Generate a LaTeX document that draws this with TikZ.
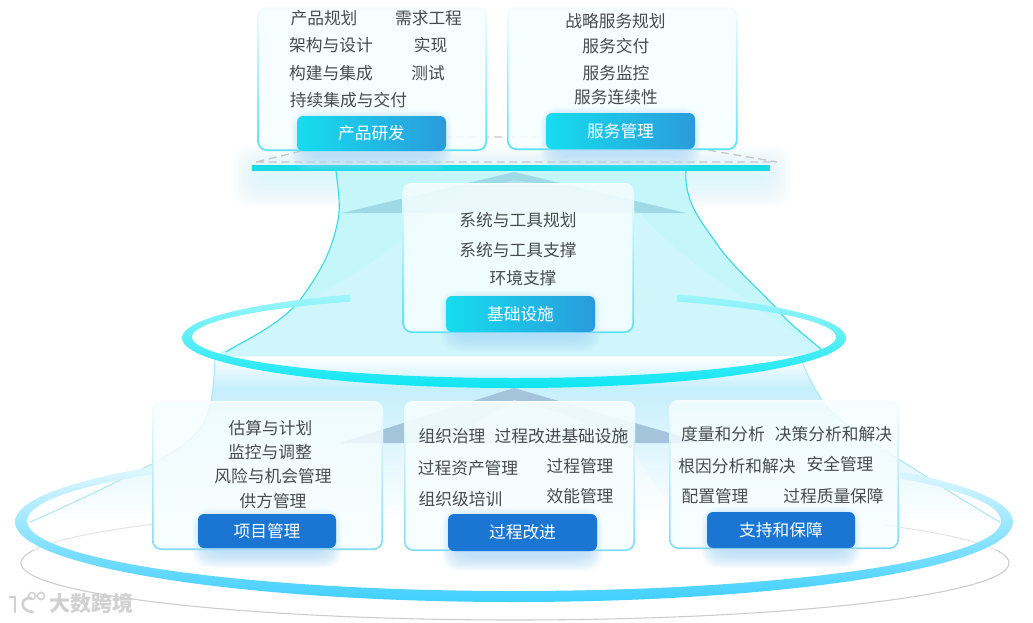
\documentclass[tikz,border=0pt]{standalone}
\usepackage{fontspec}
\setmainfont{Noto Sans CJK SC}
\usetikzlibrary{calc}
\definecolor{txt}{HTML}{474B4E}
\definecolor{cyanA}{HTML}{16DDEE}
\definecolor{cyanB}{HTML}{2A9BDC}
\definecolor{blueBtn}{HTML}{1A76D2}
\definecolor{ringC}{HTML}{0DE6F2}
\definecolor{ringB}{HTML}{3FCFFF}
\definecolor{funA}{HTML}{C4F6FA}
\definecolor{funB}{HTML}{C6EFFC}
\definecolor{lineA}{HTML}{35D8E6}
\definecolor{lineB}{HTML}{A5E5FA}
\definecolor{triA}{HTML}{A4C4DB}
\definecolor{triB}{HTML}{9FD9E6}
\definecolor{barC}{HTML}{17DBE8}
\definecolor{borA}{HTML}{55E2F4}
\definecolor{borB}{HTML}{7FDCF5}
\definecolor{panelF}{HTML}{F6FEFF}
\definecolor{glowC}{HTML}{D4F7FB}
\definecolor{glowB}{HTML}{A9D8F8}
\tikzset{
  x=0.75pt,y=-0.75pt,
  item/.style={text=txt,font=\fontsize{12.55pt}{14pt}\selectfont,inner sep=0pt},
  btn/.style={rounded corners=4.5pt,inner sep=0pt,text=white,font=\fontsize{12.55pt}{14pt}\selectfont},
  btnsoft/.style={btn,left color=cyanA,right color=cyanB},
  btnhard/.style={btn,fill=blueBtn},
  dashline/.style={draw=black!22,line width=1pt,dash pattern=on 6pt off 3.5pt},
}
% x0,y0,x1,y1,colour,steps,opacity
\newcommand{\softglow}[7]{%
  \foreach \gi in {1,...,#6}{%
    \fill[#5,opacity=#7,rounded corners=12pt]
      ({#1-1.5*(#6-\gi)},{#2-1.5*(#6-\gi)}) rectangle ({#3+1.5*(#6-\gi)},{#4+1.5*(#6-\gi)});
  }}
\newcommand{\panelbox}[6]{%
  \fill[panelF,fill opacity=#6,rounded corners=7pt] (#1,#2) rectangle (#3,#4);
  \shade[even odd rule,top color=white!94!#5,middle color=white!60!#5,bottom color=#5,rounded corners=7pt]
    (#1,#2) rectangle (#3,#4) ({#1+1.6},{#2+1.6}) [rounded corners=6pt] rectangle ({#3-1.6},{#4-1.6});
}
\newcommand{\button}[7]{%
  \softglow{#2+8}{#3+8}{#4-8}{#5+6}{glowB}{10}{0.1}
  \pgfmathsetmacro{\bw}{(#4-#2)*0.75}\pgfmathsetmacro{\bh}{(#5-#3)*0.75}
  \node[#6,minimum width=\bw pt,minimum height=\bh pt] (#1) at ({(#2+#4)/2},{(#3+#5)/2}) {\raisebox{-1pt}{#7}};
}
\begin{document}
\begin{tikzpicture}
\useasboundingbox (0,0) rectangle (1033,622);
\fill[white] (0,0) rectangle (1033,622);
% grey floor ellipse
\begin{scope}
\clip (0,550) rectangle (1033,622);
\draw[black!20,line width=0.8pt] (515,563) ellipse [x radius=494,y radius=57];
\end{scope}
\begin{scope}
\clip (0,510) -| (155,550) -| (885,510) -| (1033,550) -| (0,510) -- cycle;
\draw[black!11,line width=0.7pt] (515,563) ellipse [x radius=494,y radius=57];
\end{scope}
% lower funnel
\begin{scope}
\clip (215,356) .. controls (214,385) and (212,405) .. (205,420)
  .. controls (195,440) and (170,455) .. (150,465)
  .. controls (110,485) and (70,505) .. (30,522) -- (1000,522)
  .. controls (970,505) and (940,485) .. (900,460)
  .. controls (870,440) and (835,420) .. (822,400)
  .. controls (812,385) and (805,370) .. (800,356) -- cycle;
\shade[top color=white,bottom color=funB] (0,356) rectangle (1033,388);
\shade[top color=funB,bottom color=white] (0,388) rectangle (1033,522);
\end{scope}
\draw[lineB,line width=0.7pt] (215,356) .. controls (214,385) and (212,405) .. (205,420)
  .. controls (195,440) and (170,455) .. (150,465) .. controls (110,485) and (70,505) .. (30,522);
\draw[lineB,line width=0.7pt] (800,356) .. controls (805,370) and (812,385) .. (822,400)
  .. controls (835,420) and (870,440) .. (900,460) .. controls (940,485) and (970,505) .. (1000,522);
% lower triangle and tent
\fill[triA] (514,388) -- (340,443) -- (704,443) -- cycle;
\fill[white,opacity=0.45] (514,400) .. controls (470,425) and (440,450) .. (425,470)
  .. controls (405,510) and (380,530) .. (340,547) -- (710,547)
  .. controls (680,520) and (650,480) .. (637,457)
  .. controls (610,430) and (560,410) .. (514,400) -- cycle;
% lower ring
\begin{scope}
\clip (0,440) -| (153,505) -| (900,440) -| (1033,622) -| (0,440) -- cycle;
\shade[even odd rule,top color=white,middle color=ringB,bottom color=ringB]
  (514,522) ellipse [x radius=499,y radius=80]
  (514,521) ellipse [x radius=487,y radius=70];
\end{scope}
% bar glow
\softglow{262}{174}{762}{178}{glowC}{20}{0.05}
% upper funnel
\fill[funA] (336,171) .. controls (338,190) and (341,205) .. (338,220)
  .. controls (332,250) and (322,270) .. (300,300)
  .. controls (280,325) and (245,340) .. (214,356) -- (830,356)
  .. controls (805,335) and (790,325) .. (778,310)
  .. controls (755,285) and (730,265) .. (712,237)
  .. controls (700,220) and (684,200) .. (686,171) -- cycle;
\fill[triB] (514,172) -- (342,213) -- (686,213) -- cycle;
\fill[white,opacity=0.2] (514,180) .. controls (480,190) and (440,200) .. (430,213)
  .. controls (400,250) and (330,290) .. (214,356) -- (830,356)
  .. controls (760,310) and (680,260) .. (640,213)
  .. controls (600,195) and (550,185) .. (514,180) -- cycle;
\draw[lineA,line width=0.8pt] (336,171) .. controls (338,190) and (341,205) .. (338,220)
  .. controls (332,250) and (322,270) .. (300,300) .. controls (280,325) and (245,340) .. (226,352);
\draw[lineA,line width=0.8pt] (686,171) .. controls (684,200) and (700,220) .. (712,237)
  .. controls (730,265) and (755,285) .. (778,310) .. controls (790,325) and (805,335) .. (822,350);
% upper ring
\begin{scope}
\clip (170,285) -| (350,345) -| (677,285) -| (860,400) -| (170,285) -- cycle;
\shade[even odd rule,top color=white!65!ringC,middle color=ringC,bottom color=ringC]
  (514,338) ellipse [x radius=332,y radius=50]
  (514,337) ellipse [x radius=322,y radius=41];
\end{scope}
% bar and dashes
\draw[dashline] (256,162) -- (777,162) -- (632,137) -- (359,137) -- cycle;
\fill[barC] (252,165) rectangle (770,171);
% panels
\panelbox{257.5}{7}{487}{151}{borA}{0.9}
\panelbox{507}{7}{737.5}{150}{borA}{0.9}
\panelbox{402.5}{183}{634}{333}{borA}{0.86}
\panelbox{152}{401}{383}{550}{borB}{0.82}
\panelbox{404}{401}{635}{551}{borB}{0.9}
\panelbox{669}{400}{899}{549}{borB}{0.82}
% buttons
\button{b1}{297}{116}{446}{151}{btnsoft}{产品研发}
\button{b2}{546}{113}{695}{149}{btnsoft}{服务管理}
\button{b3}{446}{296}{595}{332}{btnsoft}{基础设施}
\button{b4}{198}{514}{336}{548}{btnhard}{项目管理}
\button{b5}{448}{514}{597}{551}{btnhard}{过程改进}
\button{b6}{707}{512}{855}{548}{btnhard}{支持和保障}
% texts
\node[item] (a1) at (324,18) {产品规划};
\node[item] (a2) at (428.5,18) {需求工程};
\node[item] (a3) at (331,45) {架构与设计};
\node[item] (a4) at (430.5,45) {实现};
\node[item] (a5) at (331,73) {构建与集成};
\node[item] (a6) at (428,73) {测试};
\node[item] (a7) at (348.5,100) {持续集成与交付};
\node[item] (c1) at (615.5,21) {战略服务规划};
\node[item] (c2) at (615.8,46) {服务交付};
\node[item] (c3) at (616,73) {服务监控};
\node[item] (c4) at (616,97) {服务连续性};
\node[item] (d1) at (518,220) {系统与工具规划};
\node[item] (d2) at (518,250) {系统与工具支撑};
\node[item] (d3) at (523,278) {环境支撑};
\node[item] (e1) at (270.5,428) {估算与计划};
\node[item] (e2) at (270,452) {监控与调整};
\node[item] (e3) at (273,476) {风险与机会管理};
\node[item] (e4) at (273,501) {供方管理};
\node[item] (f1) at (452,436) {组织治理};
\node[item] (f2) at (561.5,436) {过程改进基础设施};
\node[item] (f3) at (468,468) {过程资产管理};
\node[item] (f4) at (580,466) {过程管理};
\node[item] (f5) at (460.5,499) {组织级培训};
\node[item] (f6) at (580,496) {效能管理};
\node[item] (g1) at (723,434) {度量和分析};
\node[item] (g2) at (833.5,434) {决策分析和解决};
\node[item] (g3) at (737,466) {根因分析和解决};
\node[item] (g4) at (840,464) {安全管理};
\node[item] (g5) at (715,496) {配置管理};
\node[item] (g6) at (833.5,496) {过程质量保障};
% watermark
\node[inner sep=0pt,text=black!18,font=\fontsize{15.8pt}{17pt}\selectfont\bfseries] (w1) at (91.5,603) {大数跨境};
\draw[black!18,line width=2pt,line cap=round] (10,597) -- (15,597) -- (15,612);
\draw[black!18,line width=2pt,line cap=round] (31,598) .. controls (20,597) and (19,611) .. (33,612);
\draw[black!18,line width=1.2pt] (32,596) circle [radius=3.5] (41,596) circle [radius=3.5];
\end{tikzpicture}
\end{document}
